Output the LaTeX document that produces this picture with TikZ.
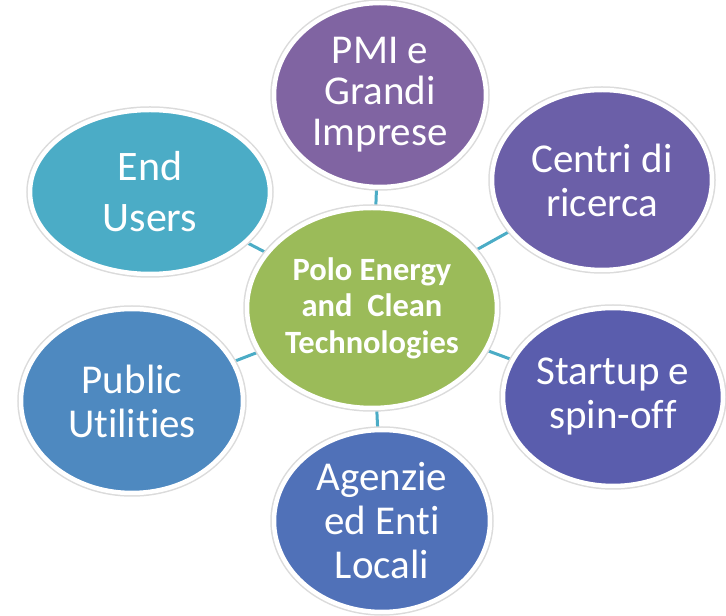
\documentclass[tikz,border=0pt]{standalone}
\usepackage{fontspec}
\setmainfont{Carlito}[Ligatures={NoCommon,NoRare,NoContextual}]
\usetikzlibrary{shapes.geometric,backgrounds}
\definecolor{cPMI}{HTML}{8064A2}
\definecolor{cCen}{HTML}{6B5FA8}
\definecolor{cSta}{HTML}{5A5DAD}
\definecolor{cAge}{HTML}{5071B8}
\definecolor{cPub}{HTML}{4E89C0}
\definecolor{cEnd}{HTML}{4BACC6}
\definecolor{cMid}{HTML}{9BBB59}
\definecolor{cConn}{HTML}{4BACC6}
\begin{document}
\begin{tikzpicture}[x=1pt,y=1pt,
  bub/.style={ellipse, fill=#1, draw=white, line width=4.5pt, inner sep=0pt,
    text=white, align=center, preaction={draw=black!14, line width=7.5pt}},
  txt/.style={font=\fontsize{41}{44}\selectfont},
  conn/.style={draw=cConn, line width=3pt}]
\useasboundingbox (0,0) rectangle (726,616);
\node[bub=cMid, minimum width=250pt, minimum height=200pt,
  font=\bfseries\fontsize{32.5}{36.5}\selectfont] (mid) at (372,308)
  {Polo Energy\\and~ Clean\\Technologies};
\node[bub=cPMI, minimum width=212pt, minimum height=184pt,
  font=\fontsize{41}{41}\selectfont] (pmi) at (380,521) {PMI e\\Grandi\\Imprese};
\node[bub=cCen, minimum width=220pt, minimum height=180pt, txt] (cen) at (602,436) {Centri di\\ricerca};
\node[bub=cSta, minimum width=220pt, minimum height=178pt, txt] (sta) at (613,219) {Startup e\\spin-off};
\node[bub=cAge, minimum width=216pt, minimum height=182pt, txt] (age) at (382,95) {Agenzie\\ed Enti\\Locali};
\node[bub=cPub, minimum width=222pt, minimum height=184pt, txt] (pub) at (132,215) {Public\\Utilities};
\node[bub=cEnd, minimum width=240pt, minimum height=164pt,
  font=\fontsize{42}{51}\selectfont] (end) at (150,424) {End\\Users};
\begin{scope}[on background layer]
\foreach \n in {pmi,cen,sta,age,pub,end}
  \draw[conn] (mid.center) -- (\n.center);
\end{scope}
\end{tikzpicture}
\end{document}
